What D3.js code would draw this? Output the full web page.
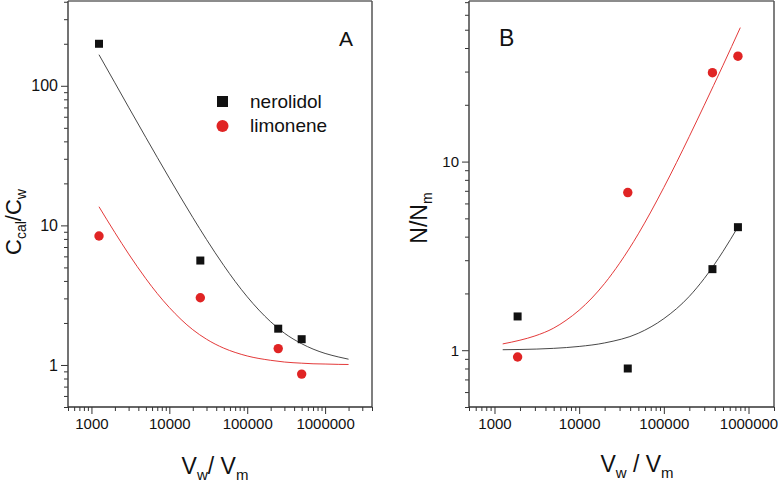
<!DOCTYPE html>
<html>
<head>
<meta charset="utf-8">
<script src="https://cdn.jsdelivr.net/npm/d3@7"></script>
<style>
  body { margin: 0; background: #fff; }
  svg { font-family: "Liberation Sans", Arial, sans-serif; }
</style>
</head>
<body>
<svg id="chart" width="778" height="487"></svg>
<script>
const WIDTH = 778;
const HEIGHT = 487;

// Panel A: C_cal/C_w vs Vw/Vm
const aNerolidolX = [1250, 25000, 250000, 500000];
const aNerolidolY = [200, 5.6, 1.82, 1.53];
const aLimoneneX = [1250, 25000, 250000, 500000];
const aLimoneneY = [8.4, 3.03, 1.31, 0.86];
// fitted curves
const aFitX = [1250, 2000, 3000, 5000, 7000, 10000, 20000, 30000, 50000, 70000, 100000, 200000, 300000, 500000, 700000, 1000000, 1500000, 2000000];
const aFitNerolidol = [167, 105, 70.3, 42.6, 30.7, 21.8, 11.4, 7.93, 5.16, 3.97, 3.08, 2.04, 1.69, 1.42, 1.30, 1.21, 1.14, 1.10];
const aFitLimonene = [13.6, 8.88, 6.25, 4.15, 3.25, 2.58, 1.79, 1.53, 1.32, 1.23, 1.16, 1.08, 1.05, 1.03, 1.02, 1.016, 1.01, 1.008];

// Panel B: N/N_m vs Vw/Vm
const bNerolidolX = [1875, 37500, 375000, 750000];
const bNerolidolY = [1.51, 0.80, 2.69, 4.49];
const bLimoneneX = [1875, 37500, 375000, 750000];
const bLimoneneY = [0.92, 6.85, 29.6, 36.2];
const bFitLimoneneX = [1250, 2000, 3000, 5000, 7000, 10000, 20000, 30000, 50000, 70000, 100000, 200000, 300000, 500000, 800000];
const bFitLimonene = [1.08, 1.13, 1.19, 1.31, 1.44, 1.63, 2.26, 2.89, 4.14, 5.40, 7.29, 13.6, 19.9, 32.4, 51.3];
const bFitNerolidolX = [1250, 2000, 5000, 10000, 20000, 50000, 100000, 200000, 300000, 500000, 750000];
const bFitNerolidol = [1.006, 1.009, 1.023, 1.047, 1.093, 1.23, 1.47, 1.93, 2.40, 3.34, 4.50];

const xMajor = [1000, 10000, 100000, 1000000];
const xLabels = ["1000", "10000", "100000", "1000000"];
const aYMajor = [1, 10, 100];
const bYMajor = [1, 10];

const RED = "#e02424";
const BLACK = "#111";

const svg = d3.select("#chart");

function minorTicks(lo, hi) {
  let out = [];
  for (let e = Math.floor(Math.log10(lo)); e <= Math.ceil(Math.log10(hi)); e++) {
    for (let m = 2; m <= 9; m++) {
      let v = m * Math.pow(10, e);
      if (v >= lo && v <= hi) out.push(v);
    }
  }
  return out;
}

function drawPanel(p) {
  const x = d3.scaleLog().domain(p.xDomain).range([p.left, p.right]);
  const y = d3.scaleLog().domain(p.yDomain).range([p.bottom, p.top]);
  const g = svg.append("g");

  // minor ticks
  g.append("g").attr("transform", `translate(0,${p.bottom})`)
    .call(d3.axisBottom(x).tickValues(minorTicks(p.xDomain[0], p.xDomain[1])).tickSize(4).tickFormat(""))
    .call(a => a.select(".domain").remove());
  g.append("g").attr("transform", `translate(${p.left},0)`)
    .call(d3.axisLeft(y).tickValues(minorTicks(p.yDomain[0], p.yDomain[1])).tickSize(4).tickFormat(""))
    .call(a => a.select(".domain").remove());

  // major ticks
  const xa = g.append("g").attr("transform", `translate(0,${p.bottom})`)
    .call(d3.axisBottom(x).tickValues(xMajor).tickSize(7).tickPadding(4).tickFormat((d, i) => xLabels[i]));
  xa.select(".domain").remove();
  xa.selectAll(".tick text").attr("font-size", 15);
  const ya = g.append("g").attr("transform", `translate(${p.left},0)`)
    .call(d3.axisLeft(y).tickValues(p.yMajor).tickSize(7).tickPadding(3).tickFormat(d3.format("d")));
  ya.select(".domain").remove();
  ya.selectAll(".tick text").attr("font-size", p.yLabelSize);
  g.selectAll(".tick line").attr("stroke", "#333").attr("stroke-width", 1);
  g.selectAll(".tick text").attr("fill", "#111")
    .attr("font-family", "Liberation Sans, Arial, sans-serif");

  // frame
  g.append("line").attr("x1", p.left).attr("x2", p.right).attr("y1", p.top).attr("y2", p.top)
    .attr("stroke", "#666").attr("stroke-width", 1.5);
  g.append("line").attr("x1", p.right).attr("x2", p.right).attr("y1", p.top).attr("y2", p.bottom)
    .attr("stroke", "#555").attr("stroke-width", 1.5);
  g.append("line").attr("x1", p.left).attr("x2", p.left).attr("y1", p.top).attr("y2", p.bottom)
    .attr("stroke", "#444").attr("stroke-width", 1.5);
  g.append("line").attr("x1", p.left).attr("x2", p.right).attr("y1", p.bottom).attr("y2", p.bottom)
    .attr("stroke", "#333").attr("stroke-width", 1.5);

  // fit curves
  const line = d3.line().x(d => x(d[0])).y(d => y(d[1])).curve(d3.curveMonotoneX);
  p.fits.forEach(f => {
    g.append("path").datum(d3.zip(f.xs, f.ys))
      .attr("d", line).attr("fill", "none")
      .attr("stroke", f.color).attr("stroke-width", 0.9);
  });

  // points
  g.append("g").selectAll("rect").data(d3.zip(p.sqX, p.sqY)).join("rect")
    .attr("x", d => x(d[0]) - 4).attr("y", d => y(d[1]) - 4)
    .attr("width", 8).attr("height", 8).attr("fill", BLACK);
  g.append("g").selectAll("circle").data(d3.zip(p.ciX, p.ciY)).join("circle")
    .attr("cx", d => x(d[0])).attr("cy", d => y(d[1]))
    .attr("r", 4.7).attr("fill", RED);

  // x title
  const xt = g.append("text").attr("x", p.xTitleX).attr("y", p.xTitleY)
    .attr("text-anchor", "middle").attr("font-size", 23).attr("fill", "#111");
  xt.append("tspan").text("V");
  xt.append("tspan").attr("font-size", 15).attr("dy", 6).text("w");
  xt.append("tspan").attr("dy", -6).text(p.xSep);
  xt.append("tspan").text("V");
  xt.append("tspan").attr("font-size", 15).attr("dy", 6).text("m");

  // panel letter
  g.append("text").attr("x", p.letterX).attr("y", p.letterY)
    .attr("font-size", p.letterSize).attr("fill", "#111").text(p.letter);
  return { x, y, g };
}

const A = drawPanel({
  left: 68, right: 372, top: 1, bottom: 407,
  xDomain: [500, 4000000], yDomain: [0.5, 405], yMajor: aYMajor, yLabelSize: 16,
  fits: [
    { xs: aFitX, ys: aFitNerolidol, color: "#333" },
    { xs: aFitX, ys: aFitLimonene, color: RED }
  ],
  sqX: aNerolidolX, sqY: aNerolidolY, ciX: aLimoneneX, ciY: aLimoneneY,
  xTitleX: 215, xTitleY: 474, xSep: "/ ",
  letter: "A", letterX: 339, letterY: 46, letterSize: 21
});

const B = drawPanel({
  left: 469, right: 774, top: 1, bottom: 407,
  xDomain: [500, 2000000], yDomain: [0.5, 71], yMajor: bYMajor, yLabelSize: 15,
  fits: [
    { xs: bFitNerolidolX, ys: bFitNerolidol, color: "#333" },
    { xs: bFitLimoneneX, ys: bFitLimonene, color: RED }
  ],
  sqX: bNerolidolX, sqY: bNerolidolY, ciX: bLimoneneX, ciY: bLimoneneY,
  xTitleX: 637, xTitleY: 472, xSep: " / ",
  letter: "B", letterX: 499, letterY: 46, letterSize: 23
});

// y titles
const yta = svg.append("text").attr("transform", "translate(21,222) rotate(-90)")
  .attr("text-anchor", "middle").attr("font-size", 22).attr("fill", "#111");
yta.append("tspan").text("C");
yta.append("tspan").attr("font-size", 14).attr("dy", 5).text("cal");
yta.append("tspan").attr("dy", -5).text("/C");
yta.append("tspan").attr("font-size", 14).attr("dy", 5).text("w");

const ytb = svg.append("text").attr("transform", "translate(427,218) rotate(-90)")
  .attr("text-anchor", "middle").attr("font-size", 23).attr("fill", "#111");
ytb.append("tspan").text("N/N");
ytb.append("tspan").attr("font-size", 14).attr("dy", 5).text("m");

// legend in panel A
const legend = A.g.append("g");
legend.append("rect").attr("x", 217).attr("y", 96).attr("width", 11).attr("height", 11).attr("fill", BLACK);
legend.append("circle").attr("cx", 222.5).attr("cy", 126).attr("r", 6).attr("fill", RED);
legend.append("text").attr("x", 250).attr("y", 108).attr("font-size", 19).attr("fill", "#111").text("nerolidol");
legend.append("text").attr("x", 250).attr("y", 132).attr("font-size", 19).attr("fill", "#111").text("limonene");
</script>
</body>
</html>
